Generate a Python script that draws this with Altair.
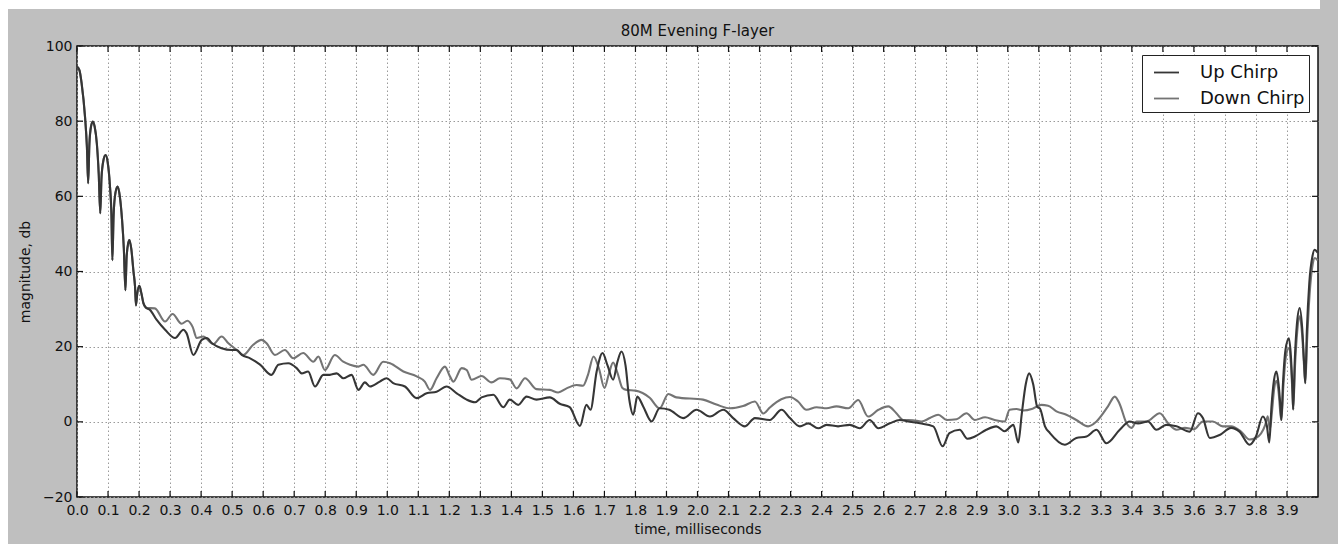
import altair as alt
import pandas as pd

# ---- data -----------------------------------------------------------------
title_text = "80M Evening F-layer"

# shared main lobe and sidelobes at the start of both traces (ms, dB)
lobe_t = [0.0, 0.008, 0.015, 0.026, 0.032, 0.036,
          0.040, 0.045, 0.051, 0.057, 0.064, 0.070, 0.075,
          0.079, 0.085, 0.092, 0.099, 0.106, 0.111, 0.114,
          0.118, 0.124, 0.131, 0.138, 0.145, 0.151, 0.156,
          0.160, 0.165, 0.169, 0.175, 0.182, 0.187, 0.190,
          0.194, 0.201, 0.208, 0.214, 0.224]
lobe_db = [94.5, 93.5, 90.0, 81.0, 73.0, 63.5,
           74.0, 78.5, 79.9, 78.5, 74.0, 66.0, 55.5,
           65.0, 69.5, 71.0, 69.0, 63.0, 55.0, 43.0,
           55.0, 61.0, 62.6, 60.0, 54.0, 46.0, 35.0,
           44.0, 47.5, 48.4, 46.0, 40.0, 36.0, 31.0,
           34.0, 36.2, 34.0, 31.6, 30.3]

up_t = [0.235, 0.257, 0.284, 0.316, 0.343, 0.353, 0.375, 0.402, 0.418, 0.435,
        0.466, 0.498, 0.515, 0.531, 0.558, 0.590, 0.627, 0.649, 0.681, 0.708,
        0.724, 0.745, 0.767, 0.794, 0.815, 0.837, 0.858, 0.885, 0.907, 0.928,
        0.944, 0.976, 0.998, 1.019, 1.057, 1.095, 1.127, 1.159, 1.191, 1.224,
        1.256, 1.283, 1.304, 1.342, 1.374, 1.395, 1.422, 1.449, 1.481, 1.524,
        1.556, 1.588, 1.621, 1.642, 1.655, 1.675, 1.694, 1.710, 1.728, 1.742,
        1.755, 1.768, 1.780, 1.793, 1.806, 1.825, 1.852, 1.878, 1.909, 1.954,
        1.997, 2.040, 2.083, 2.115, 2.153, 2.185, 2.233, 2.271, 2.298, 2.330,
        2.357, 2.389, 2.416, 2.453, 2.491, 2.523, 2.555, 2.583, 2.620, 2.652,
        2.679, 2.717, 2.760, 2.790, 2.812, 2.845, 2.870, 2.894, 2.931, 2.963,
        2.990, 3.018, 3.034, 3.045, 3.058, 3.069, 3.082, 3.095, 3.104, 3.120,
        3.136, 3.184, 3.221, 3.254, 3.286, 3.318, 3.361, 3.393, 3.420, 3.452,
        3.479, 3.511, 3.544, 3.587, 3.613, 3.629, 3.651, 3.683, 3.720, 3.747,
        3.779, 3.800, 3.822, 3.835, 3.843,
        3.850, 3.858, 3.866, 3.873, 3.879, 3.882, 3.887, 3.895, 3.906, 3.913,
        3.918, 3.920, 3.925, 3.932, 3.941, 3.949, 3.955, 3.959, 3.964, 3.972,
        3.982, 3.989, 3.999]
up_db = [29.8, 27.1, 24.5, 22.3, 24.5, 23.6, 17.8, 21.8, 22.3, 20.9,
         19.6, 19.1, 19.1, 17.8, 16.9, 15.2, 12.5, 15.2, 15.6, 14.3,
         12.9, 13.4, 9.4, 12.5, 12.5, 12.9, 11.6, 12.5, 8.5, 10.5,
         9.4, 10.7, 11.6, 10.3, 9.4, 6.3, 7.6, 8.0, 9.4, 7.6,
         5.9, 5.2, 6.5, 7.2, 3.9, 5.9, 4.5, 6.7, 5.9, 6.5,
         4.8, 3.9, -1.1, 4.5, 3.2, 13.4, 18.3, 15.0, 11.2, 16.0,
         18.7, 15.0, 6.0, 1.9, 6.7, 4.1, 0.1, 3.6, 3.2, 1.0,
         3.2, 1.4, 3.2, 1.0, -1.2, 1.0, 0.5, 3.2, 1.0, -1.2,
         -0.4, -1.7, -0.8, -1.2, -0.8, -1.7, 0.5, -1.7, -0.4, 0.5,
         0.1, -0.4, -1.2, -6.5, -3.0, -2.1, -4.5, -3.9, -2.1, -1.2,
         -2.5, -0.8, -5.5, 2.0, 10.0, 12.9, 10.0, 4.0, 3.5, -1.2,
         -3.0, -6.1, -4.3, -3.9, -2.1, -5.7, -2.1, 0.1, -0.4, 0.1,
         -2.1, -0.8, -1.2, -2.6, 2.3, 1.0, -4.3, -3.5, -1.6, -2.6,
         -6.1, -3.9, 1.4, -1.0, -5.5,
         4.0, 11.0, 13.4, 10.0, 4.0, 0.5, 10.0, 19.0, 22.2, 17.0,
         8.0, 3.3, 16.0, 26.0, 30.3, 25.0, 16.0, 10.3, 24.0, 37.0,
         44.0, 45.8, 45.0]

down_t = [0.251, 0.284, 0.308, 0.337, 0.356, 0.373, 0.386, 0.407, 0.439, 0.466,
          0.488, 0.515, 0.536, 0.568, 0.595, 0.611, 0.638, 0.670, 0.697, 0.729,
          0.762, 0.778, 0.799, 0.831, 0.858, 0.880, 0.907, 0.923, 0.955, 0.987,
          1.009, 1.052, 1.095, 1.121, 1.138, 1.159, 1.186, 1.202, 1.213, 1.240,
          1.256, 1.272, 1.304, 1.336, 1.363, 1.395, 1.417, 1.444, 1.481, 1.524,
          1.551, 1.578, 1.610, 1.631, 1.647, 1.665, 1.683, 1.700, 1.715, 1.728,
          1.742, 1.758, 1.771, 1.800, 1.846, 1.878, 1.906, 1.932, 2.018, 2.061,
          2.104, 2.147, 2.185, 2.212, 2.233, 2.270, 2.298, 2.324, 2.351, 2.384,
          2.416, 2.448, 2.486, 2.518, 2.550, 2.583, 2.615, 2.641, 2.663, 2.695,
          2.722, 2.749, 2.776, 2.803, 2.835, 2.867, 2.894, 2.927, 2.958, 2.990,
          3.006, 3.028, 3.050, 3.080, 3.108, 3.130, 3.157, 3.189, 3.221, 3.259,
          3.286, 3.323, 3.345, 3.360, 3.383, 3.399, 3.415, 3.447, 3.490, 3.517,
          3.544, 3.571, 3.600, 3.629, 3.661, 3.693, 3.720, 3.752, 3.779, 3.800,
          3.830, 3.838, 3.845,
          3.852, 3.859, 3.866, 3.873, 3.879, 3.882, 3.888, 3.896, 3.906, 3.913,
          3.918, 3.920, 3.926, 3.933, 3.941, 3.949, 3.955, 3.959, 3.965, 3.973,
          3.983, 3.990, 3.999]
down_db = [30.2, 26.7, 28.7, 26.1, 26.9, 25.2, 22.3, 22.7, 20.7, 22.7,
           20.9, 19.1, 17.8, 20.5, 21.8, 20.9, 17.8, 19.1, 16.9, 18.3,
           16.0, 17.4, 13.8, 17.8, 16.0, 15.2, 14.7, 15.2, 12.5, 16.0,
           15.6, 13.4, 12.1, 10.7, 8.5, 11.6, 14.7, 12.1, 10.7, 14.3,
           13.8, 11.2, 12.2, 10.5, 11.6, 11.3, 8.9, 11.6, 8.7, 8.5,
           7.8, 8.9, 9.8, 9.6, 12.5, 17.4, 14.0, 9.0, 13.0, 15.8,
           13.0, 9.0, 8.5, 8.3, 6.4, 3.6, 7.4, 6.5, 5.9, 4.6,
           3.6, 4.2, 5.4, 2.2, 3.8, 6.0, 6.6, 5.4, 3.2, 3.9,
           3.6, 4.1, 3.6, 5.8, 1.4, 3.2, 4.1, 2.3, 0.5, 0.4,
           0.1, 1.0, 1.9, 0.5, 0.7, 2.3, 0.5, 1.2, 0.5, 0.1,
           3.2, 3.4, 3.0, 3.5, 4.5, 4.3, 2.8, 1.9, 0.5, -1.2,
           0.1, 4.1, 6.7, 4.9, -0.4, -1.6, 0.1, 0.1, 2.3, -0.4,
           -2.1, -1.6, -2.0, 0.1, 0.1, -1.2, -1.2, -2.6, -4.7, -4.3,
           -0.8, 1.5, -2.0,
           3.0, 9.0, 10.9, 8.0, 2.0, 0.5, 9.0, 17.0, 19.6, 15.0,
           7.0, 3.3, 15.0, 24.0, 28.1, 23.0, 15.0, 10.3, 22.0, 34.0,
           42.0, 43.6, 43.0]

series_names = ["Up Chirp", "Down Chirp"]
series_colors = ["#363636", "#747474"]

x_ticks = [round(0.1 * i, 1) for i in range(40)]
y_ticks = [-20, 0, 20, 40, 60, 80, 100]

W, H = 1241, 451
FONT = "DejaVu Sans"
INK = "#111111"

df = pd.concat([
    pd.DataFrame({"t": lobe_t + down_t, "db": lobe_db + down_db, "series": "Down Chirp"}),
    pd.DataFrame({"t": lobe_t + up_t, "db": lobe_db + up_db, "series": "Up Chirp"}),
], ignore_index=True)

xscale = alt.Scale(domain=[0, 4.0], nice=False, zero=False)
yscale = alt.Scale(domain=[-20, 100], nice=False, zero=False)

color = alt.Color(
    "series:N",
    scale=alt.Scale(domain=series_names, range=series_colors),
    legend=alt.Legend(
        title=None, orient="none", legendX=1065, legendY=9,
        fillColor="white", strokeColor="#222222", padding=4,
        labelFontSize=18, labelFont=FONT, labelColor=INK,
        symbolType="stroke", symbolSize=625, symbolStrokeWidth=1.8,
        symbolOffset=7, labelOffset=20, rowPadding=3, cornerRadius=0,
    ),
)

x_axis = alt.Axis(
    values=x_ticks, format=".1f", grid=True, ticks=False, domain=False,
    gridDash=[1.5, 2.5], gridColor="#9a9a9a", gridWidth=1,
    labelFontSize=14, labelFont=FONT, labelColor=INK, labelPadding=6,
    labelFlush=False, labelOverlap=False,
    title="time, milliseconds", titleFontSize=14, titleFont=FONT,
    titleFontWeight="normal", titleColor=INK, titlePadding=5,
)
y_axis = alt.Axis(
    values=y_ticks, grid=True, ticks=False, domain=False,
    gridDash=[1.5, 2.5], gridColor="#9a9a9a", gridWidth=1,
    labelFontSize=14, labelFont=FONT, labelColor=INK, labelPadding=5,
    labelFlush=False,
    title="magnitude, db", titleFontSize=14, titleFont=FONT,
    titleFontWeight="normal", titleColor=INK, titlePadding=10,
)


def trace(name):
    return alt.Chart(df).transform_filter(alt.datum.series == name).mark_line(
        strokeWidth=2.1, interpolate="monotone"
    ).encode(
        x=alt.X("t:Q", scale=xscale, axis=x_axis),
        y=alt.Y("db:Q", scale=yscale, axis=y_axis),
        color=color,
        order="t:Q",
    )


down_line = trace("Down Chirp")
up_line = trace("Up Chirp")

# inward-pointing ticks on all four sides of the frame
xt = alt.Chart(pd.DataFrame({"t": x_ticks}))
yt = alt.Chart(pd.DataFrame({"v": y_ticks}))
tick_style = dict(color=INK, strokeWidth=1.2)
ticks_bottom = xt.mark_rule(**tick_style).encode(
    x=alt.X("t:Q", scale=xscale, axis=x_axis), y=alt.value(H), y2=alt.value(H - 6))
ticks_top = xt.mark_rule(**tick_style).encode(
    x=alt.X("t:Q", scale=xscale, axis=x_axis), y=alt.value(0), y2=alt.value(6))
ticks_left = yt.mark_rule(**tick_style).encode(
    y=alt.Y("v:Q", scale=yscale, axis=y_axis), x=alt.value(0), x2=alt.value(6))
ticks_right = yt.mark_rule(**tick_style).encode(
    y=alt.Y("v:Q", scale=yscale, axis=y_axis), x=alt.value(W), x2=alt.value(W - 6))

# white page margin along the top and left edge of the figure
one = alt.Chart(pd.DataFrame({"k": [0]}))
edge_top = one.mark_rect(color="white").encode(
    x=alt.value(-77), x2=alt.value(1243), y=alt.value(-46), y2=alt.value(-37))
edge_left = one.mark_rect(color="white").encode(
    x=alt.value(-77), x2=alt.value(-69), y=alt.value(-46), y2=alt.value(H + 47))

# chart title, centred above the plot frame
title_mark = one.mark_text(
    text=title_text, font=FONT, fontSize=15, color=INK,
    align="center", baseline="middle",
).encode(x=alt.value(W / 2), y=alt.value(-15))

chart = alt.layer(
    edge_top, edge_left, title_mark, down_line, up_line,
    ticks_bottom, ticks_top, ticks_left, ticks_right,
).properties(
    width=W, height=H,
    autosize=alt.AutoSizeParams(type="none"),
    padding={"left": 77, "top": 46, "right": 20, "bottom": 47},
    background="#bfbfbf",
).configure_view(
    fill="white", stroke=INK, strokeWidth=1.5,
)

chart.save("out.html", embed_options={"renderer": "svg", "actions": False})
